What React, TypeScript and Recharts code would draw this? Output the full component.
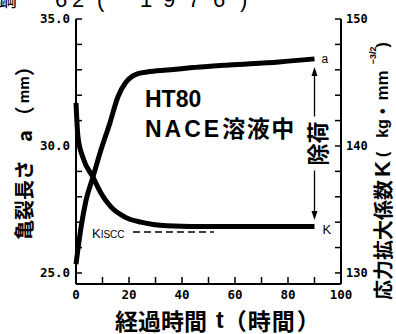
import React from 'react';
import { ComposedChart, Line, XAxis, YAxis, ReferenceLine } from 'recharts';

// ---- data ----
const crackHours = [0, 1.9, 3.8, 6.4, 9.4, 12.8, 15.8, 18.9, 21.2, 23.4, 27.2, 34.3, 46.8, 57.7, 76.6, 90];
const crackLength = [25.35, 26.8, 27.87, 28.78, 29.84, 30.91, 31.93, 32.52, 32.74, 32.85, 32.92, 32.99, 33.11, 33.19, 33.31, 33.43];
const kHours = [0, 0.75, 2.6, 6.4, 9.4, 13.2, 18.5, 24.5, 34.3, 46.8, 60, 75, 90];
const kValues = [143.4, 140.7, 139.1, 137.55, 136.3, 135.2, 134.4, 134.0, 133.72, 133.66, 133.65, 133.65, 133.65];

const kIscc = 133.23;
const kIsccFrom = 21.5;
const kIsccTo = 52;

const unloadHour = 90;
const unloadTopA = 33.11;
const unloadBottomA = 27.09;

const timeTicks = [0, 10, 20, 30, 40, 50, 60, 70, 80, 90, 100];
const crackTicks = [25, 26, 27, 28, 29, 30, 31, 32, 33, 34, 35];
const kTicks = [130, 132, 134, 136, 138, 140, 142, 144, 146, 148, 150];
const crackDomain: [number, number] = [24.567, 35];
const kDomain: [number, number] = [129.13, 150];

const crackData = crackHours.map((t, i) => ({ t, v: crackLength[i] }));
const kData = kHours.map((t, i) => ({ t, v: kValues[i] }));

const CJK = '"Noto Sans CJK JP", "Noto Sans CJK SC", sans-serif';
const SANS = '"Liberation Sans", Arial, sans-serif';
const MONO = '"DejaVu Sans Mono", monospace';

const tickStyle = { fill: '#000', fontSize: 12.5, fontFamily: MONO, fontWeight: 'bold' };

const ArrowShape = (p: any) => {
  const x = p.x1;
  const yTop = Math.min(p.y1, p.y2);
  const yBot = Math.max(p.y1, p.y2);
  const mid = (yTop + yBot) / 2;
  const gap = 27;
  return (
    <g>
      <line x1={x} y1={yTop + 6} x2={x} y2={mid - gap} stroke="#000" strokeWidth={1.3} />
      <polygon points={`${x},${yTop} ${x - 3},${yTop + 9} ${x + 3},${yTop + 9}`} fill="#000" />
      <line x1={x} y1={mid + gap} x2={x} y2={yBot - 6} stroke="#000" strokeWidth={1.3} />
      <polygon points={`${x},${yBot} ${x - 3},${yBot - 9} ${x + 3},${yBot - 9}`} fill="#000" />
      <text
        transform={`translate(${x + 1},${mid}) rotate(-90)`}
        textAnchor="middle"
        dominantBaseline="central"
        fontSize={22}
        fontWeight="bold"
        fontFamily={CJK}
        fill="#000"
      >
        除荷
      </text>
    </g>
  );
};

const KisccShape = (p: any) => (
  <g>
    <line x1={p.x1} y1={p.y1} x2={p.x2} y2={p.y2} stroke="#000" strokeWidth={1.5} strokeDasharray="7 4" />
    <text x={p.x1 - 41} y={p.y1 + 6} fontFamily={SANS} fill="#000">
      <tspan fontSize={13}>K</tspan>
      <tspan fontSize={10}>ISCC</tspan>
    </text>
  </g>
);

const endLabel = (last: number, txt: string, size: number, dx: number, dy: number) => (p: any) =>
  p.index === last ? (
    <text x={p.x + dx} y={p.y + dy} dominantBaseline="central" fontSize={size} fontFamily={SANS} fill="#000">
      {txt}
    </text>
  ) : (
    <g />
  );

export default function App() {
  return (
    <div style={{ position: 'fixed', left: 0, top: 0, width: 396, height: 334, background: '#fff' }}>
      <ComposedChart width={396} height={334} margin={{ top: 19, right: 0, bottom: 0, left: 0 }}>
        <XAxis
          xAxisId="x"
          dataKey="t"
          type="number"
          domain={[0, 100]}
          ticks={timeTicks}
          height={50}
          tickSize={-7}
          tickMargin={13}
          axisLine={{ stroke: '#000', strokeWidth: 2 }}
          tickLine={{ stroke: '#000', strokeWidth: 1.5 }}
          tick={tickStyle}
          tickFormatter={(v: number) => (v % 20 === 0 ? String(v) : '')}
          interval={0}
        />
        <XAxis
          xAxisId="top"
          orientation="top"
          type="number"
          domain={[0, 100]}
          ticks={timeTicks}
          height={0}
          tickSize={-6}
          axisLine={{ stroke: '#000', strokeWidth: 2 }}
          tickLine={{ stroke: '#000', strokeWidth: 1.5 }}
          tick={false}
          interval={0}
        />
        <YAxis
          yAxisId="a"
          type="number"
          domain={crackDomain}
          allowDataOverflow
          ticks={crackTicks}
          width={76}
          tickSize={-6}
          tickMargin={12}
          axisLine={{ stroke: '#000', strokeWidth: 2 }}
          tickLine={{ stroke: '#000', strokeWidth: 1.5 }}
          tick={tickStyle}
          tickFormatter={(v: number) => (v % 5 === 0 ? v.toFixed(1) : '')}
          interval={0}
        />
        <YAxis
          yAxisId="K"
          orientation="right"
          type="number"
          domain={kDomain}
          allowDataOverflow
          ticks={kTicks}
          width={55}
          tickSize={-6}
          tickMargin={11}
          axisLine={{ stroke: '#000', strokeWidth: 2 }}
          tickLine={{ stroke: '#000', strokeWidth: 1.5 }}
          tick={{ ...tickStyle, fontSize: 12 }}
          tickFormatter={(v: number) => (v % 10 === 0 ? String(v) : '')}
          interval={0}
        />
        <ReferenceLine
          xAxisId="x"
          yAxisId="K"
          segment={[
            { x: kIsccFrom, y: kIscc },
            { x: kIsccTo, y: kIscc },
          ]}
          shape={KisccShape}
        />
        <Line
          xAxisId="x"
          yAxisId="a"
          data={crackData}
          dataKey="v"
          type="monotone"
          stroke="#000"
          strokeWidth={5}
          dot={false}
          isAnimationActive={false}
          label={endLabel(crackData.length - 1, 'a', 12, 7, 0)}
        />
        <Line
          xAxisId="x"
          yAxisId="K"
          data={kData}
          dataKey="v"
          type="monotone"
          stroke="#000"
          strokeWidth={5}
          dot={false}
          isAnimationActive={false}
          label={endLabel(kData.length - 1, 'K', 13, 8, 3)}
        />
        <ReferenceLine
          xAxisId="x"
          yAxisId="a"
          segment={[
            { x: unloadHour, y: unloadTopA },
            { x: unloadHour, y: unloadBottomA },
          ]}
          shape={ArrowShape}
        />
      </ComposedChart>
      <svg
        width={396}
        height={334}
        style={{ position: 'absolute', left: 0, top: 0, pointerEvents: 'none' }}
      >
        <text x={-3} y={7} fontSize={20} fontFamily={CJK} fill="#000">鋼</text>
        <text x="55 72 97 140 163 188 213 240" y={7} fontSize={22} fontFamily={SANS} fill="#000">62(1976)</text>

        <text x={145} y={107} fontSize={23} fontWeight="bold" fontFamily={SANS} fill="#000">HT80</text>
        <text x={145} y={137} fontSize={23} fontWeight="bold" fill="#000">
          <tspan fontFamily={SANS} letterSpacing={3}>NACE</tspan>
          <tspan fontFamily={CJK} letterSpacing={1.5}>溶液中</tspan>
        </text>

        <text
          transform="translate(23,240) rotate(-90)"
          dominantBaseline="central"
          fontFamily={CJK}
          fontWeight="bold"
          fontSize={20}
          fill="#000"
        >
          亀裂長さ<tspan dx={18}>a</tspan>
          <tspan dx={4}>（</tspan>
          <tspan dx={3} fontSize={14}>mm</tspan>
          <tspan>）</tspan>
        </text>

        <text
          transform="translate(382,300) rotate(-90)"
          dominantBaseline="central"
          fontFamily={CJK}
          fontWeight="bold"
          fontSize={20}
          fill="#000"
        >
          応力拡大係数
          <tspan dx={3} fontFamily={SANS} fontSize={22}>K</tspan>
          <tspan dx={4} fontFamily={SANS} fontSize={16}>(</tspan>
          <tspan dx={14} fontFamily={SANS} fontSize={16}>kg</tspan>
          <tspan dx={5} fontFamily={SANS} fontSize={16}>•</tspan>
          <tspan dx={8} fontFamily={SANS} fontSize={17}>mm</tspan>
          <tspan dx={6} dy={-9} fontFamily={SANS} fontSize={9}>−3/2</tspan>
          <tspan dx={-1} dy={9} fontFamily={SANS} fontSize={16}>)</tspan>
        </text>

        <text x={115} y={320} dominantBaseline="central" fontFamily={CJK} fontWeight="bold" fontSize={23} fill="#000">
          経過時間
          <tspan dx={9} fontFamily={SANS}>t</tspan>
          <tspan>（</tspan>
          <tspan dx={1}>時</tspan>
          <tspan dx={1}>間</tspan>
          <tspan dx={2}>）</tspan>
        </text>
      </svg>
    </div>
  );
}
